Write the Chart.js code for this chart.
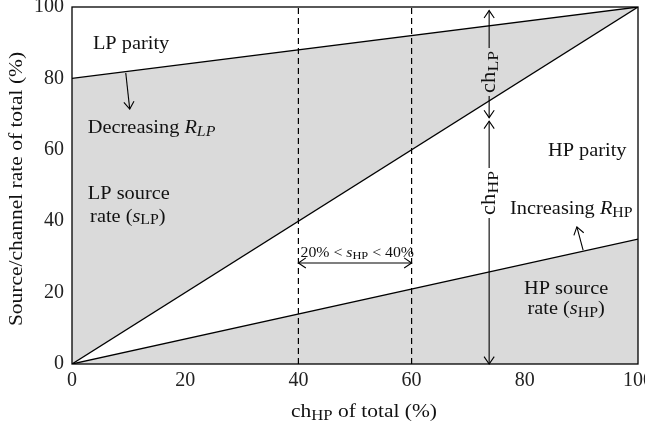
<!DOCTYPE html>
<html>
<head>
<meta charset="utf-8">
<script src="https://cdn.jsdelivr.net/npm/chart.js@4/dist/chart.umd.min.js"></script>
<style>
  html, body { margin: 0; padding: 0; background: #fff; }
  #wrap { width: 645px; height: 429px; }
</style>
</head>
<body>
<div id="wrap"><canvas id="grafico"></canvas></div>
<script>
// datos del grafico
const ejeTicks = [0, 20, 40, 60, 80, 100];
const lineaParidadLP = [{ x: 0, y: 80 }, { x: 100, y: 100 }];
const lineaDiagonal = [{ x: 0, y: 0 }, { x: 100, y: 100 }];
const lineaFuenteHP = [{ x: 0, y: 0 }, { x: 100, y: 35 }];
const limitesSHP = [40, 60];

const FUENTE = "'Liberation Serif', 'DejaVu Serif', serif";
const GRIS = "#dadada";
const ESTIRA = 1.13; // la fuente original es mas ancha que Times

// textos: partes [texto, estilo]  n=normal i=italica s=subindice is=italica subindice
const textos = [
  { pos: [3.7, 89.9], align: "left", partes: [["LP parity", "n"]] },
  { pos: [2.8, 66.4], align: "left", partes: [["Decreasing ", "n"], ["R", "i"], ["LP", "is"]] },
  { pos: [2.8, 47.9], align: "left", partes: [["LP source", "n"]] },
  { pos: [3.2, 41.5], align: "left", partes: [["rate (", "n"], ["s", "i"], ["LP", "s"], [")", "n"]] },
  { pos: [84.1, 59.8], align: "left", partes: [["HP parity", "n"]] },
  { pos: [77.4, 43.7], align: "left", partes: [["Increasing ", "n"], ["R", "i"], ["HP", "s"]] },
  { pos: [87.3, 21.3], align: "center", partes: [["HP source", "n"]] },
  { pos: [87.3, 15.7], align: "center", partes: [["rate (", "n"], ["s", "i"], ["HP", "s"], [")", "n"]] },
  { pos: [50.4, 31.4], align: "center", tam: 14, partes: [["20% < ", "n"], ["s", "i"], ["HP", "s"], [" < 40%", "n"]] },
];

const flechas = [
  { desde: [9.5, 81.5], hasta: [10.2, 71.4], doble: false },
  { desde: [90.3, 31.9], hasta: [89.2, 38.4], doble: false },
  { desde: [40, 28.3], hasta: [60, 28.3], doble: true },
];

const flechasCh = [
  { x: 73.7, y0: 69, y1: 99, yTexto: 81.8, partes: [["ch", "n"], ["LP", "s"]] },
  { x: 73.7, y0: 0, y1: 68, yTexto: 47.9, partes: [["ch", "n"], ["HP", "s"]] },
];

function fuentePara(estilo, tam) {
  const sub = estilo.includes("s");
  const ita = estilo.includes("i");
  const t = sub ? tam * 0.78 : tam;
  return (ita ? "italic " : "") + t + "px " + FUENTE;
}

function anchoRico(ctx, partes, tam) {
  let w = 0;
  partes.forEach(([t, e]) => {
    ctx.font = fuentePara(e, tam);
    w += ctx.measureText(t).width;
  });
  return w * ESTIRA;
}

function pintarRico(ctx, partes, x, y, align, tam) {
  const w = anchoRico(ctx, partes, tam);
  const cx = align === "center" ? x - w / 2 : align === "right" ? x - w : x;
  ctx.save();
  ctx.translate(cx, y + tam * 0.33);
  ctx.scale(ESTIRA, 1);
  ctx.textBaseline = "alphabetic";
  ctx.textAlign = "left";
  let px = 0;
  partes.forEach(([t, e]) => {
    ctx.font = fuentePara(e, tam);
    const dy = e.includes("s") ? tam * 0.15 : 0;
    ctx.fillText(t, px, dy);
    px += ctx.measureText(t).width;
  });
  ctx.restore();
}

function punta(ctx, x0, y0, x1, y1) {
  const ang = Math.atan2(y1 - y0, x1 - x0);
  const L = 9, A = 0.6;
  ctx.beginPath();
  ctx.moveTo(x1 - L * Math.cos(ang - A), y1 - L * Math.sin(ang - A));
  ctx.lineTo(x1, y1);
  ctx.lineTo(x1 - L * Math.cos(ang + A), y1 - L * Math.sin(ang + A));
  ctx.stroke();
}

function linea(ctx, x0, y0, x1, y1) {
  ctx.beginPath();
  ctx.moveTo(x0, y0);
  ctx.lineTo(x1, y1);
  ctx.stroke();
}

const anotaciones = {
  id: "anotaciones",
  afterDatasetsDraw(chart) {
    const { ctx, chartArea: a, scales } = chart;
    const sx = scales.x, sy = scales.y;
    ctx.save();
    ctx.strokeStyle = "#000";
    ctx.fillStyle = "#111";
    ctx.lineWidth = 1.3;
    ctx.strokeRect(a.left, a.top, a.width, a.height);

    ctx.lineWidth = 1.1;
    flechas.forEach(({ desde, hasta, doble }) => {
      const x0 = sx.getPixelForValue(desde[0]), y0 = sy.getPixelForValue(desde[1]);
      const x1 = sx.getPixelForValue(hasta[0]), y1 = sy.getPixelForValue(hasta[1]);
      linea(ctx, x0, y0, x1, y1);
      punta(ctx, x0, y0, x1, y1);
      if (doble) punta(ctx, x1, y1, x0, y0);
    });

    flechasCh.forEach(({ x, y0, y1, yTexto, partes }) => {
      const px = sx.getPixelForValue(x);
      const pb = sy.getPixelForValue(y0), pt = sy.getPixelForValue(y1);
      const pm = sy.getPixelForValue(yTexto);
      const w = anchoRico(ctx, partes, 20);
      linea(ctx, px, pt, px, pm - w / 2 - 3);
      linea(ctx, px, pm + w / 2 + 3, px, pb);
      punta(ctx, px, pb, px, pt);
      punta(ctx, px, pt, px, pb);
      ctx.save();
      ctx.translate(px, pm);
      ctx.rotate(-Math.PI / 2);
      pintarRico(ctx, partes, 0, -1, "center", 20);
      ctx.restore();
    });

    textos.forEach(({ pos, align, partes, tam }) => {
      pintarRico(ctx, partes, sx.getPixelForValue(pos[0]), sy.getPixelForValue(pos[1]), align, tam || 18);
    });

    // titulos de los ejes
    pintarRico(ctx, [["ch", "n"], ["HP", "s"], [" of total (%)", "n"]], (a.left + a.right) / 2 + 9, 411, "center", 19);
    ctx.save();
    ctx.translate(16, 189);
    ctx.rotate(-Math.PI / 2);
    pintarRico(ctx, [["Source/channel rate of total (%)", "n"]], 0, 0, "center", 19);
    ctx.restore();
    ctx.restore();
  },
};

const baseLinea = {
  showLine: true,
  borderColor: "#000",
  borderWidth: 1.3,
  pointRadius: 0,
  tension: 0,
};

const cfg = {
  type: "scatter",
  data: {
    datasets: [
      { ...baseLinea, label: "LP parity", data: lineaParidadLP, fill: "+1", backgroundColor: GRIS },
      { ...baseLinea, label: "diagonal", data: lineaDiagonal, fill: false },
      { ...baseLinea, label: "HP source", data: lineaFuenteHP, fill: "origin", backgroundColor: GRIS },
      ...limitesSHP.map((v) => ({
        ...baseLinea,
        label: "s" + v,
        data: [{ x: v, y: 0 }, { x: v, y: 100 }],
        borderWidth: 1.2,
        borderDash: [6, 4],
        fill: false,
      })),
    ],
  },
  options: {
    responsive: true,
    maintainAspectRatio: false,
    animation: false,
    layout: { padding: { top: 7, right: 7, left: 0, bottom: 0 } },
    plugins: {
      legend: { display: false },
      tooltip: { enabled: false },
      filler: { drawTime: "beforeDatasetsDraw" },
    },
    scales: {
      x: {
        type: "linear",
        min: 0,
        max: 100,
        afterBuildTicks: (s) => { s.ticks = ejeTicks.map((v) => ({ value: v })); },
        ticks: { color: "#222", font: { family: FUENTE, size: 20 }, padding: 0, maxRotation: 0 },
        grid: { display: false, tickLength: 5 },
        border: { display: false },
        afterFit: (s) => { s.height = 65; s.paddingLeft = 0; s.paddingRight = 0; },
      },
      y: {
        type: "linear",
        min: 0,
        max: 100,
        afterBuildTicks: (s) => { s.ticks = ejeTicks.map((v) => ({ value: v })); },
        ticks: { color: "#222", font: { family: FUENTE, size: 20 }, padding: 2 },
        grid: { display: false, tickLength: 6 },
        border: { display: false },
        afterFit: (s) => { s.width = 72; s.paddingTop = 0; s.paddingBottom = 0; },
      },
    },
  },
  plugins: [anotaciones],
};

new Chart(document.getElementById("grafico"), cfg);
</script>
</body>
</html>
